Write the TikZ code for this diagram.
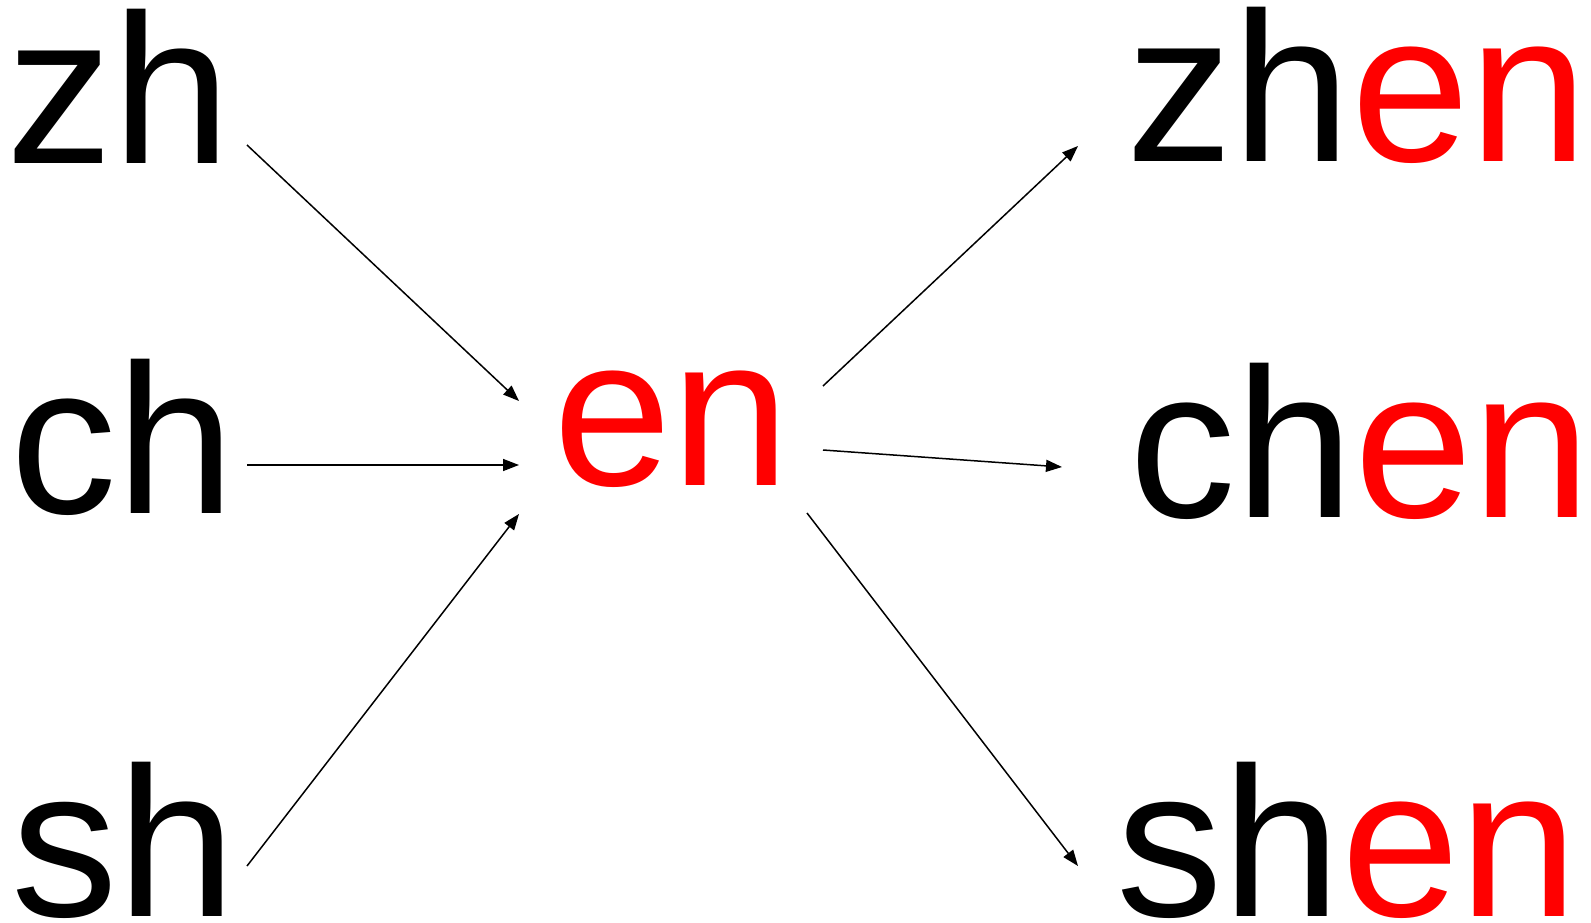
\documentclass[tikz,border=0pt]{standalone}
\usepackage{fontspec}
\setmainfont{Liberation Sans}
\usepackage{tikz}
\usetikzlibrary{arrows.meta, positioning}

\begin{document}
\begin{tikzpicture}[x=1pt, y=-1pt,
    syl/.style={inner sep=0pt, anchor=base west, font=\fontsize{213}{213}\selectfont},
    arr/.style={line width=1.5pt, -{Triangle[length=16pt, width=12pt]}}]
    \useasboundingbox (0,0) rectangle (1591,923);

    \node (zh) [syl] at (6,164) {zh};
    \node (ch) [syl] at (10,513) {ch};
    \node (sh) [syl] at (11,916) {sh};

    \node (en) [syl, text=red] at (553,485) {en};

    \node (zhen) [syl] at (1126,162) {zh\textcolor{red}{en}};
    \node (chen) [syl] at (1129,517) {ch\textcolor{red}{en}};
    \node (shen) [syl] at (1116,916) {sh\textcolor{red}{en}};

    % arrow ends
    \coordinate (zhOut) at (247,145);
    \coordinate (chOut) at (247,465);
    \coordinate (shOut) at (247,866);
    \coordinate (enInA) at (519,401);
    \coordinate (enInB) at (519,465);
    \coordinate (enInC) at (519,514);
    \coordinate (enOutA) at (823,386);
    \coordinate (enOutB) at (823,450);
    \coordinate (enOutC) at (807,513);
    \coordinate (zhenIn) at (1078,146);
    \coordinate (chenIn) at (1062,467);
    \coordinate (shenIn) at (1078,866);

    \draw[arr] (zhOut) -- (enInA);
    \draw[arr] (chOut) -- (enInB);
    \draw[arr] (shOut) -- (enInC);

    \draw[arr] (enOutA) -- (zhenIn);
    \draw[arr] (enOutB) -- (chenIn);
    \draw[arr] (enOutC) -- (shenIn);

\end{tikzpicture}
\end{document}
